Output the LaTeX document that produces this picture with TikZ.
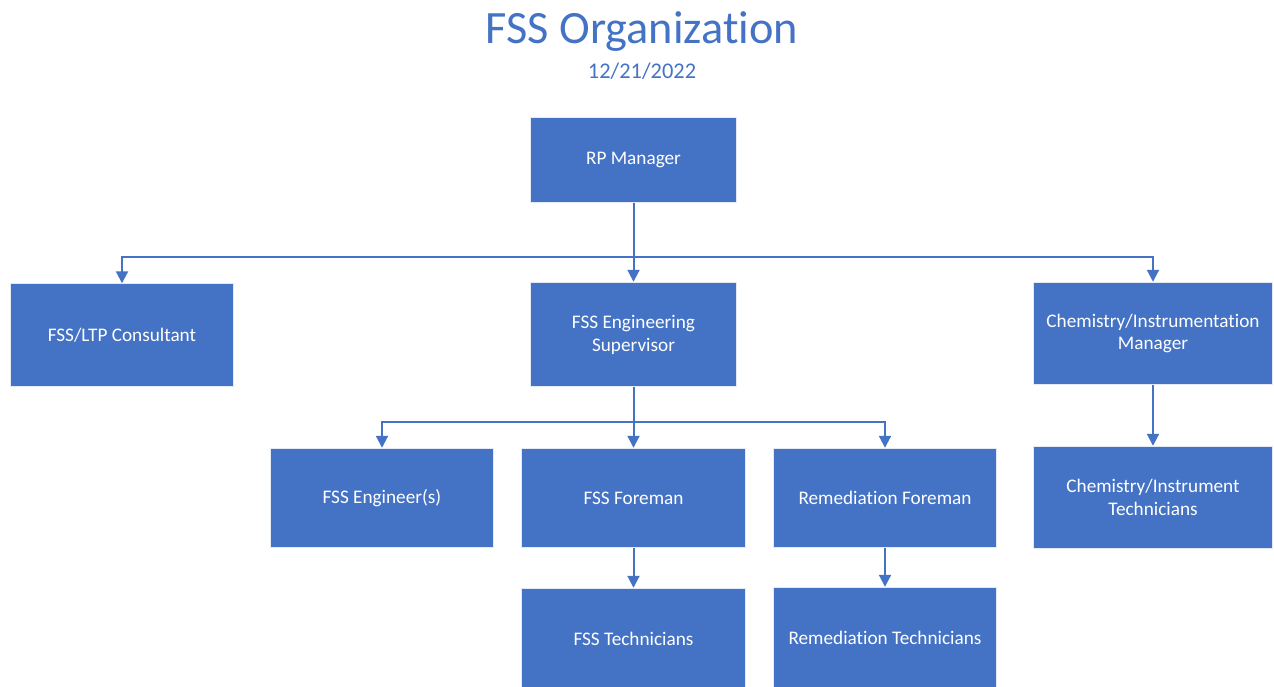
\documentclass[tikz,border=0pt]{standalone}
\usepackage{fontspec}
\setmainfont{Carlito}[Ligatures=NoCommon]
\usepackage{tikz}
\usetikzlibrary{arrows.meta}
\definecolor{orgblue}{HTML}{4472C4}

\tikzset{
    unit/.style={fill=orgblue, draw=white!85!orgblue, line width=0.8bp, text=white,
        align=center, inner sep=0pt, font=\fontsize{19.3}{23}\selectfont},
    conn/.style={draw=orgblue, line width=2bp, -{Triangle[width=12bp,length=12bp]}},
}

\begin{document}
\begin{tikzpicture}[x=1bp, y=-1bp]

    % Page frame
    \useasboundingbox (0,0) rectangle (1274,687);

    % Title and date
    \node[text=orgblue, font=\fontsize{46.5}{54}\selectfont] (title) at (642,32) {FSS Organization};
    \node[text=orgblue, font=\fontsize{22.5}{26}\selectfont] (date) at (642,71) {12/21/2022};

    % Top level
    \node[unit, minimum width=207, minimum height=85] (rp) at (633.5,160) {RP Manager};

    % Second level
    \node[unit, minimum width=224, minimum height=103] (cons) at (122,335) {FSS/LTP Consultant};
    \node[unit, minimum width=207, minimum height=105] (sup) at (633.5,334.5) {FSS Engineering\\Supervisor};
    \node[unit, minimum width=240, minimum height=103] (chem) at (1153,333.5) {Chemistry/Instrumentation\\Manager};

    % Third level
    \node[unit, minimum width=224, minimum height=100] (eng) at (382,498) {FSS Engineer(s)};
    \node[unit, minimum width=225, minimum height=100] (fore) at (633.5,498) {FSS Foreman};
    \node[unit, minimum width=224, minimum height=100] (remfore) at (885,498) {Remediation Foreman};
    \node[unit, minimum width=240, minimum height=103] (chemtech) at (1153,497.5) {Chemistry/Instrument\\Technicians};

    % Fourth level
    \node[unit, minimum width=225, minimum height=102] (tech) at (633.5,639) {FSS Technicians};
    \node[unit, minimum width=224, minimum height=102] (remtech) at (885,638) {Remediation Technicians};

    % Branch points
    \coordinate (bus1) at (633.5,257);
    \coordinate (bus2) at (633.5,422);

    % Connectors
    \draw[conn] (rp.south) -- (sup.north);
    \draw[conn] (bus1) -| (cons.north);
    \draw[conn] (bus1) -| (chem.north);
    \draw[conn] (sup.south) -- (fore.north);
    \draw[conn] (bus2) -| (eng.north);
    \draw[conn] (bus2) -| (remfore.north);
    \draw[conn] (chem.south) -- (chemtech.north);
    \draw[conn] (fore.south) -- (tech.north);
    \draw[conn] (remfore.south) -- (remtech.north);

\end{tikzpicture}
\end{document}
